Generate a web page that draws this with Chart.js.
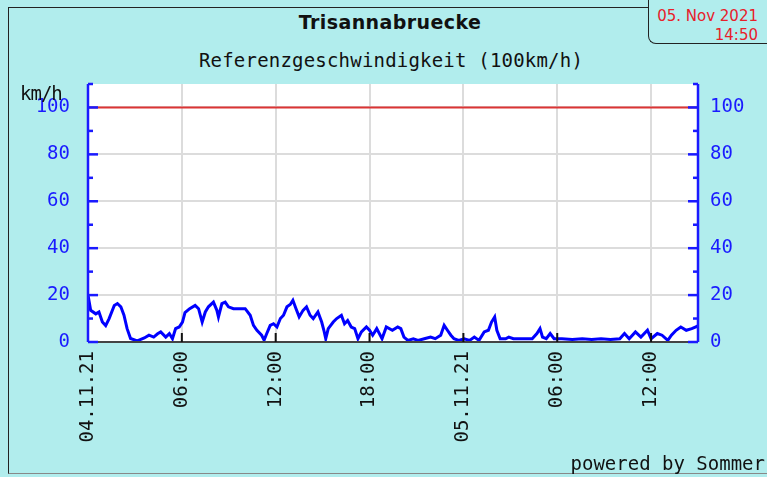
<!DOCTYPE html>
<html>
<head>
<meta charset="utf-8">
<script src="https://cdn.jsdelivr.net/npm/chart.js@4.4.1/dist/chart.umd.min.js"></script>
<style>
  html, body { margin:0; padding:0; background:#b1eded; width:767px; height:477px; overflow:hidden; }
  #wrap { position:relative; width:767px; height:477px; }
  canvas { position:absolute; left:0; top:0; }
  .frame { position:absolute; left:8px; top:7px; width:770px; height:465px; border-left:1.5px solid #222; border-top:1.5px solid #222; border-bottom:1.5px solid #888; }
  .datebox { position:absolute; left:648px; top:-5px; width:140px; height:48px; border-left:1.5px solid #222; border-bottom:1.5px solid #222; border-bottom-left-radius:8px; background:#b1eded; }
  .t { position:absolute; white-space:nowrap; }
  #title { left:0; width:780px; top:11px; text-align:center; font:bold 19px "DejaVu Sans", sans-serif; color:#111; letter-spacing:0.4px; }
  #sub { left:0; width:782px; top:49px; text-align:center; font:19px "DejaVu Sans Mono", monospace; color:#111; letter-spacing:0.2px; }
  #d1 { right:9px; top:7px; font:15px "DejaVu Sans", sans-serif; color:#e8202a; }
  #d2 { right:9px; top:26px; font:15px "DejaVu Sans", sans-serif; color:#e8202a; }
  #unit { left:20px; top:82px; font:19px "DejaVu Sans Mono", monospace; color:#111; letter-spacing:-1px; }
  #foot { right:2px; top:452px; font:19px "DejaVu Sans Mono", monospace; color:#111; }
</style>
</head>
<body>
<div id="wrap">
  <div class="frame"></div>
  <div class="datebox"></div>
  <div class="t" id="title">Trisannabruecke</div>
  <div class="t" id="sub">Referenzgeschwindigkeit (100km/h)</div>
  <div class="t" id="d1">05. Nov 2021</div>
  <div class="t" id="d2">14:50</div>
  <canvas id="c" width="767" height="477"></canvas>
  <div class="t" id="unit">km/h</div>
  <div class="t" id="foot">powered by Sommer</div>
</div>
<script>
// hours since 04.11.21 00:00
const hours = [0,0.17,0.5,0.7,0.92,1.13,1.35,1.68,1.88,2.1,2.3,2.5,2.72,3.15,3.6,3.9,4.2,4.45,4.65,4.97,5.2,5.4,5.6,5.83,6.04,6.2,6.5,6.85,7.07,7.3,7.5,7.7,8.02,8.24,8.34,8.56,8.77,8.98,9.3,9.73,10.05,10.37,10.58,10.8,11.1,11.26,11.43,11.65,11.86,12.08,12.3,12.5,12.72,12.93,13.1,13.3,13.5,13.75,13.97,14.2,14.4,14.7,14.94,15.08,15.2,15.36,15.68,15.9,16.2,16.4,16.6,16.83,17.05,17.26,17.48,17.8,18.0,18.2,18.46,18.8,19.07,19.46,19.8,20.0,20.2,20.45,20.8,21.1,21.5,21.9,22.2,22.55,22.77,22.98,23.2,23.4,23.7,24.05,24.4,24.7,25.0,25.33,25.6,25.8,26.0,26.14,26.35,26.7,26.9,27.2,27.7,28.4,28.7,28.9,29.06,29.3,29.55,29.8,30.3,30.96,31.6,32.2,32.8,33.4,34.0,34.3,34.6,35.0,35.35,35.77,36.0,36.4,36.7,37.07,37.3,37.6,37.9,38.25,38.6,38.9,39.0];
const speed = [20,13.5,12,12.8,8.5,7,10,15.6,16.4,15,11.4,5.7,1.5,0.5,1.7,2.9,2.1,3.5,4.3,2.1,3.6,1.4,5.7,6.4,8.5,12.5,14.2,15.6,14.2,8.5,12.8,15,17,13.5,10.7,16.4,17,15,14.2,14.2,14.2,11.4,7.1,5,2.9,0.8,3.6,7.1,7.8,6.4,10,11.4,15,16,17.8,14.2,10.7,13.5,15,11.4,10,12.8,8.5,5,1.4,5.7,8.5,10,11.4,7.8,9.2,6.4,5.7,1.4,4.3,6.4,5,2.9,5.7,1.4,6.4,5,6.4,5.7,2.1,0.7,1.4,0.7,1.4,2.1,1.4,2.9,7.1,5,2.9,1.4,0.7,1.4,0.7,2.1,0.7,4.3,5,8.5,10.7,5,1.4,1.4,2.1,1.4,1.4,1.4,3.6,5.7,2.1,1.4,3.6,1.4,1.4,1.1,1.4,1.1,1.4,1.1,1.4,3.6,1.4,4.3,2.1,5,1.4,3.6,2.9,0.7,2.9,5,6.4,5,5.7,6.5,7];
const refHours = [0, 39];
const refSpeed = [100, 100];
const xTickValues = [0,6,12,18,24,30,36];
const xTickLabels = ['04.11.21','06:00','12:00','18:00','05.11.21','06:00','12:00'];
const yTickValues = [0,20,40,60,80,100];

const MONO = '"DejaVu Sans Mono", monospace';

const axesPlugin = {
  id:'axesPlugin',
  beforeDraw(chart){
    const {ctx, chartArea:a} = chart;
    ctx.save(); ctx.fillStyle='#ffffff';
    ctx.fillRect(a.left, a.top, a.right-a.left, a.bottom-a.top);
    ctx.restore();
  },
  afterDraw(chart){
    const {ctx, chartArea:a} = chart;
    const y = chart.scales.y, x = chart.scales.x;
    ctx.save();
    ctx.strokeStyle='#444'; ctx.lineWidth=2;
    ctx.beginPath(); ctx.moveTo(a.left, a.bottom); ctx.lineTo(a.right, a.bottom); ctx.stroke();
    ctx.strokeStyle='#111'; ctx.lineWidth=2;
    xTickValues.forEach(v=>{ if(v===0) return; const px=x.getPixelForValue(v);
      ctx.beginPath(); ctx.moveTo(px, a.bottom); ctx.lineTo(px, a.bottom-9); ctx.stroke(); });
    ctx.strokeStyle='#1a1aff'; ctx.lineWidth=2.5;
    ctx.beginPath(); ctx.moveTo(a.left, a.top); ctx.lineTo(a.left, a.bottom); ctx.stroke();
    ctx.beginPath(); ctx.moveTo(a.right, a.top); ctx.lineTo(a.right, a.bottom); ctx.stroke();
    for(let v=0; v<=110; v+=10){
      const py = y.getPixelForValue(v);
      const len = (v%20===0 && v<=100) ? 10 : 5;
      ctx.beginPath(); ctx.moveTo(a.left, py); ctx.lineTo(a.left+len, py); ctx.stroke();
      ctx.beginPath(); ctx.moveTo(a.right, py); ctx.lineTo(a.right-len, py); ctx.stroke();
    }
    ctx.restore();
  }
};

new Chart(document.getElementById('c'), {
  type:'line',
  data:{
    datasets:[
      { data: refHours.map((h,i)=>({x:h, y:refSpeed[i]})), borderColor:'#dc3434', borderWidth:2, pointRadius:0, yAxisID:'y' },
      { data: hours.map((h,i)=>({x:h, y:speed[i]})), borderColor:'#0000ff', borderWidth:3, pointRadius:0, tension:0, yAxisID:'y' }
    ]
  },
  options:{
    responsive:false, animation:false,
    layout:{ padding:{ top:84, left:0, right:0, bottom:0 } },
    plugins:{ legend:{display:false}, tooltip:{enabled:false}, title:{display:false} },
    scales:{
      x:{
        type:'linear', min:0, max:39,
        afterBuildTicks(s){ s.ticks = xTickValues.map(v=>({value:v})); },
        afterFit(s){ s.height = 135; },
        border:{display:false},
        grid:{ color:'#dcdcdc', lineWidth:2, drawTicks:false },
        ticks:{ autoSkip:false, minRotation:90, maxRotation:90, padding:9, color:'#111',
          font:{family:MONO, size:19},
          callback(v){ const i = xTickValues.indexOf(v); return i>=0 ? xTickLabels[i] : ''; } }
      },
      y:{
        position:'left', min:0, max:110,
        afterBuildTicks(s){ const t=[]; for(let v=0; v<=110; v+=10) t.push({value:v}); s.ticks=t; },
        afterFit(s){ s.width = 88; },
        border:{display:false},
        grid:{ color:(c)=> c.tick && c.tick.value>=110 ? 'rgba(0,0,0,0)' : '#dcdcdc', lineWidth:2, drawTicks:false },
        ticks:{ padding:18, color:'#1a1aff', font:{family:MONO, size:19},
          callback(v){ return yTickValues.includes(v) ? String(v) : ''; } }
      },
      y2:{
        position:'right', min:0, max:110,
        afterBuildTicks(s){ const t=[]; for(let v=0; v<=110; v+=10) t.push({value:v}); s.ticks=t; },
        afterFit(s){ s.width = 69; },
        border:{display:false},
        grid:{ drawOnChartArea:false, drawTicks:false },
        ticks:{ padding:12, color:'#1a1aff', font:{family:MONO, size:19},
          callback(v){ return yTickValues.includes(v) ? String(v) : ''; } }
      }
    }
  },
  plugins:[axesPlugin]
});
</script>
</body>
</html>
